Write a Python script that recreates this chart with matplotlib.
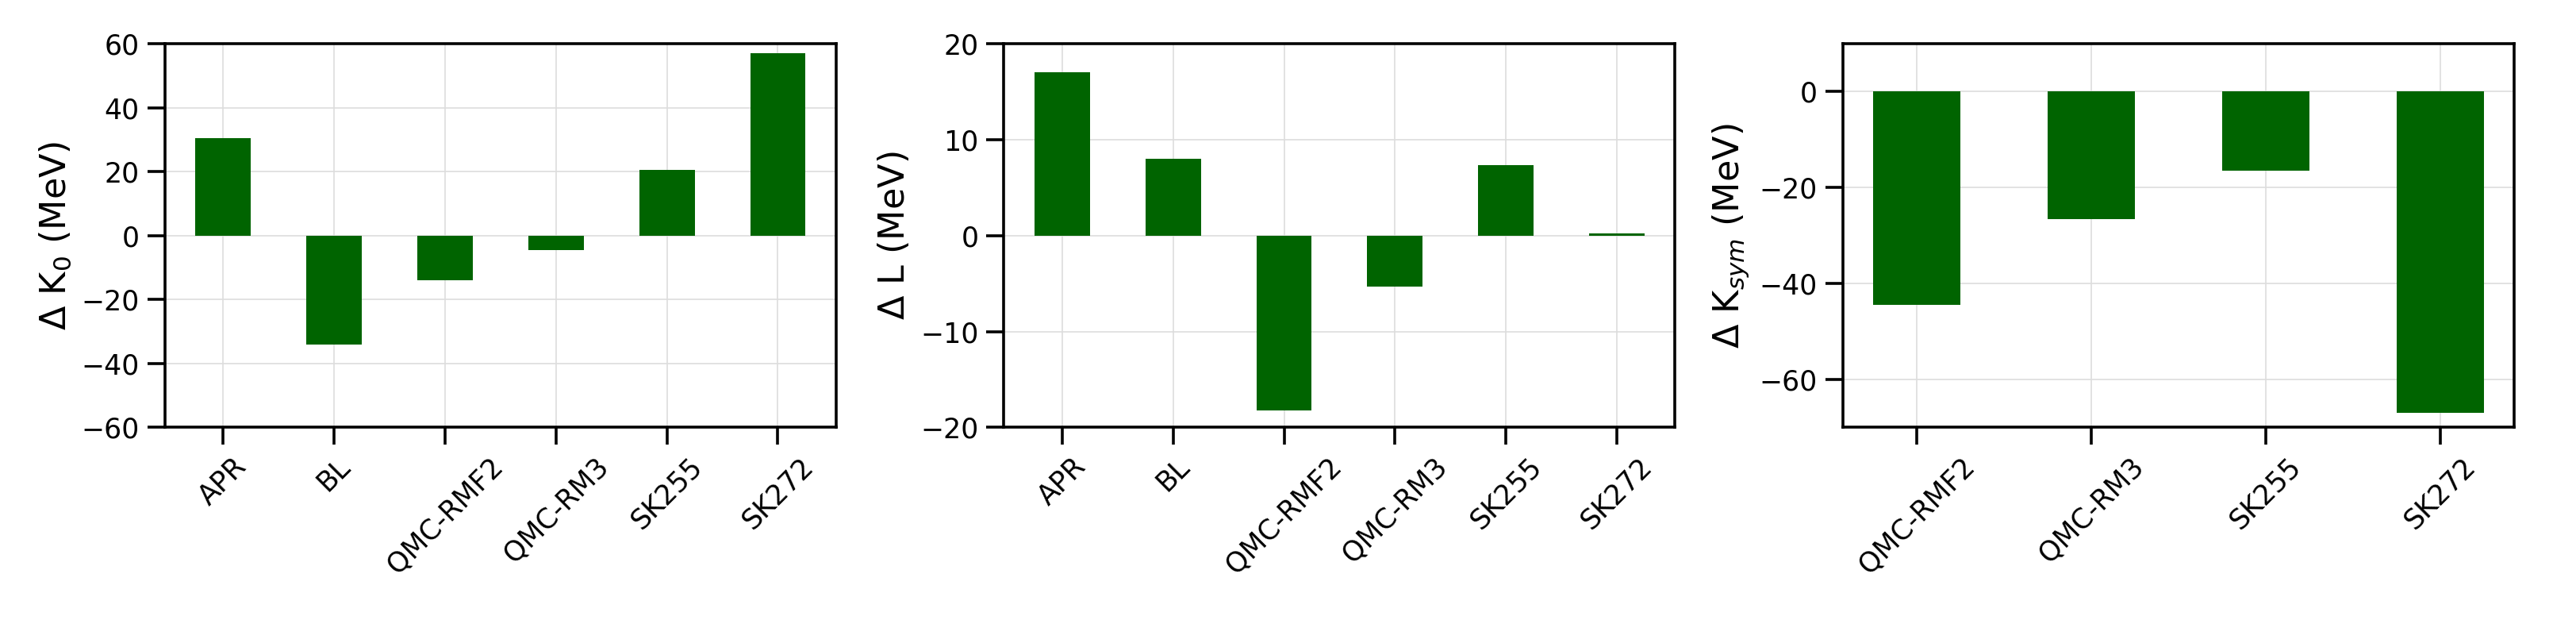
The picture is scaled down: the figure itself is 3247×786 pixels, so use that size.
import matplotlib
matplotlib.use("Agg")
import matplotlib.pyplot as plt

models1 = ["APR", "BL", "QMC-RMF2", "QMC-RM3", "SK255", "SK272"]
dK0 = [30.5, -34.0, -14.0, -4.5, 20.5, 57.0]
dL = [17.0, 8.0, -18.2, -5.3, 7.3, 0.2]
models3 = ["QMC-RMF2", "QMC-RM3", "SK255", "SK272"]
dKsym = [-44.5, -26.5, -16.5, -67.0]

fig, axes = plt.subplots(1, 3, figsize=(16.235, 3.93), dpi=200)
specs = [
    (models1, dK0, r"$\Delta$ K$_0$ (MeV)", (-60, 60), range(-60, 61, 20)),
    (models1, dL, r"$\Delta$ L (MeV)", (-20, 20), range(-20, 21, 10)),
    (models3, dKsym, r"$\Delta$ K$_{sym}$ (MeV)", (-70, 10), range(-60, 1, 20)),
]
for ax, (m, v, lab, yl, yt) in zip(axes, specs):
    ax.bar(range(len(m)), v, width=0.5, color="darkgreen", zorder=3)
    ax.set_xticks(range(len(m)))
    ax.set_xticklabels(m, rotation=45, fontsize=12.5)
    ax.set_ylim(*yl)
    ax.set_yticks(list(yt))
    ax.set_ylabel(lab, fontsize=16)
    ax.grid(True, color="#dddddd", linewidth=0.6, zorder=0)
    ax.tick_params(axis="both", which="major", length=8, width=1.3, labelsize=12.5)
    for s in ax.spines.values():
        s.set_linewidth(1.3)
fig.subplots_adjust(left=0.064, right=0.976, top=0.93, bottom=0.315, wspace=0.25)
fig.savefig("out.png", dpi=200)
